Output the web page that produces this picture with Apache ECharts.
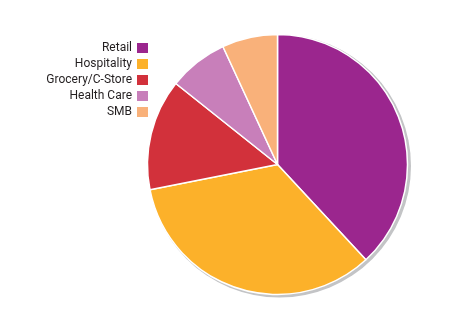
<!DOCTYPE html>
<html>
<head>
<meta charset="utf-8">
<script src="https://cdn.jsdelivr.net/npm/echarts@6/dist/echarts.min.js"></script>
<style>html,body{margin:0;padding:0;background:#fff;}#c{width:450px;height:312px;}</style>
</head>
<body>
<div id="c"></div>
<script>
const categories = ["Retail", "Hospitality", "Grocery/C-Store", "Health Care", "SMB"];
const values = [38.1, 33.8, 13.8, 7.4, 6.9];
const colors = ["#9b268e", "#fcb12a", "#d2313b", "#c87fba", "#f9b17a"];

const chart = echarts.init(document.getElementById('c'), null, {renderer: 'canvas'});
chart.setOption({
  animation: false,
  legend: {
    orient: 'vertical',
    align: 'right',
    right: 302,
    top: 42,
    padding: 0,
    itemWidth: 11,
    itemHeight: 10,
    itemGap: 4,
    icon: 'rect',
    itemStyle: {borderWidth: 0},
    textStyle: {fontFamily: 'Roboto', fontSize: 12, color: '#231f20'},
    data: categories
  },
  series: [
    {
      type: 'pie',
      silent: true,
      center: [279.5, 166],
      radius: 131.5,
      label: {show: false},
      labelLine: {show: false},
      itemStyle: {color: '#c3c4c6'},
      z: 1,
      data: [{value: 1, name: '_bg'}],
      legendHoverLink: false
    },
    {
      type: 'pie',
      center: [277.5, 164.5],
      radius: 130,
      startAngle: 90,
      clockwise: true,
      label: {show: false},
      labelLine: {show: false},
      itemStyle: {borderColor: '#fff', borderWidth: 1.5},
      z: 2,
      data: categories.map((n, i) => ({name: n, value: values[i], itemStyle: {color: colors[i]}}))
    }
  ]
});
</script>
</body>
</html>
